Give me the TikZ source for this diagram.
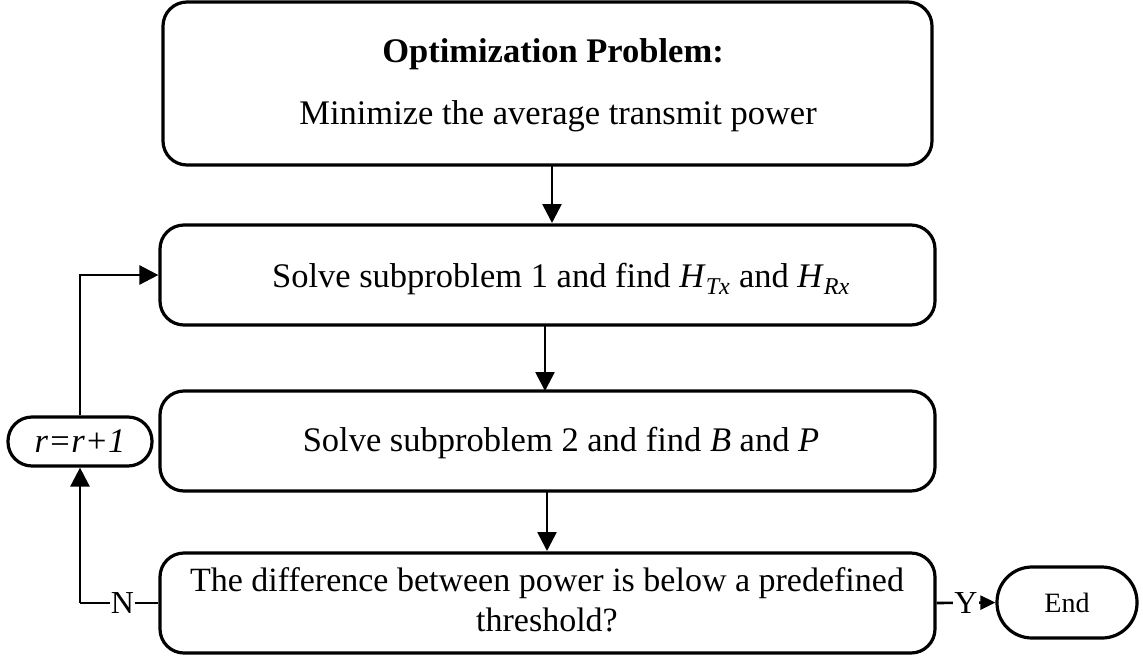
\documentclass[tikz,border=0pt]{standalone}
\usepackage{fontspec}
\setmainfont{Liberation Serif}
\usetikzlibrary{arrows.meta}
\begin{document}
\begin{tikzpicture}[x=1pt,y=-1pt,
  box/.style={draw, line width=3.2pt, rounded corners=24pt, inner sep=0pt},
  pill/.style={draw, line width=3.2pt, inner sep=0pt},
  txt/.style={font=\fontsize{34.5}{40}\selectfont, inner sep=0pt, align=center, anchor=base},
  flow/.style={line width=2.6pt, -{Triangle[length=19pt,width=19pt]}},
  plain/.style={line width=2.6pt},
  lab/.style={font=\fontsize{32}{36}\selectfont, fill=white, inner sep=1pt}]
\useasboundingbox (0,0) rectangle (1143,662);
% main column of steps
\node[box, minimum width=769pt, minimum height=163pt] (opt) at (547.5,83.5) {};
\node[txt, font=\fontsize{34.5}{40}\selectfont\bfseries] (optA) at (553,62) {Optimization Problem:};
\node[txt] (optB) at (558,124) {Minimize the average transmit power};
\node[box, minimum width=775pt, minimum height=100pt] (sub1) at (547.5,275) {};
\node[txt] (sub1t) at (561,287) {Solve subproblem 1 and find \textit{H}\textsubscript{\textit{Tx}} and \textit{H}\textsubscript{\textit{Rx}}};
\node[box, minimum width=775pt, minimum height=100pt] (sub2) at (547.5,441) {};
\node[txt] (sub2t) at (561,451) {Solve subproblem 2 and find \textit{B} and \textit{P}};
\node[box, minimum width=775pt, minimum height=100pt] (chk) at (547.5,603) {};
% the base anchor of this two-line node sits on its second line
\node[txt, font=\fontsize{34}{40}\selectfont] (chkt) at (547,631) {The difference between power is below a predefined\\threshold?};
% side nodes
\node[pill, rounded corners=24pt, minimum width=144pt, minimum height=49pt] (inc) at (80,441.5) {\fontsize{34.5}{40}\selectfont\itshape r=r+1};
\node[pill, rounded corners=35pt, minimum width=140pt, minimum height=71pt] (fin) at (1067,602.5) {\fontsize{28}{32}\selectfont End};
% connectors
\draw[flow] (552,165) -- (552,223) coordinate (a1);
\draw[flow] (545,325) -- (545,391) coordinate (a2);
\draw[flow] (547,492) -- (547,551) coordinate (a3);
\coordinate (nc) at (80,603);
\draw[plain] (chk.west) -- node[lab, pos=0.46]{N} (nc);
\draw[flow] (nc) -- (inc.south);
\draw[flow] (inc.north) |- (sub1.west);
\draw[line width=2.6pt, -{Triangle[length=15pt,width=14pt]}] (chk.east) -- node[lab, pos=0.5]{Y} (fin.west);
\end{tikzpicture}
\end{document}
